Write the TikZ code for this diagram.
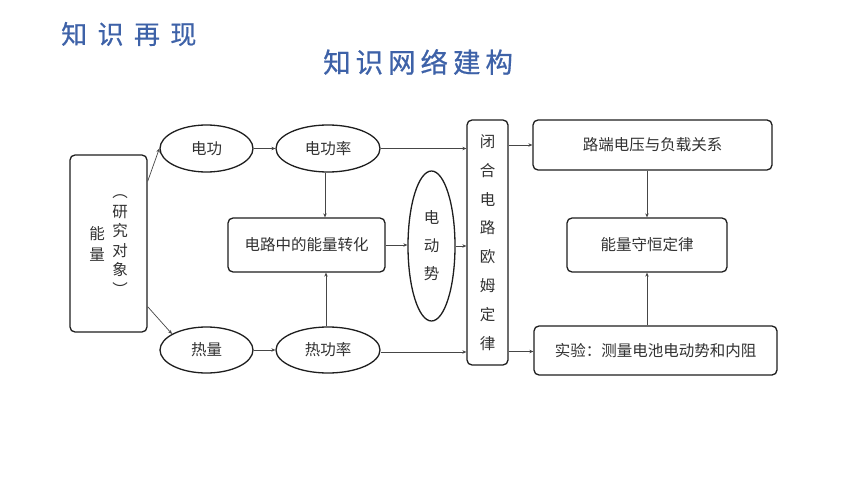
\documentclass[tikz,border=0pt]{standalone}
\usepackage{fontspec}
\setmainfont{Noto Sans CJK SC}
\newfontfamily\titlefontA[LetterSpace=40,FakeBold=0.6]{Noto Sans CJK SC}
\newfontfamily\titlefontB[LetterSpace=18,FakeBold=0.6]{Noto Sans CJK SC}
\usetikzlibrary{shapes.geometric,arrows.meta}
\definecolor{ttl}{RGB}{62,98,168}
\definecolor{txt}{RGB}{50,50,50}
\definecolor{edge}{RGB}{30,30,30}
\definecolor{lnk}{RGB}{70,70,70}
\tikzset{
  rbox/.style={draw=edge, line width=1.3pt, rounded corners=5pt, inner sep=0pt,
    text=txt, align=center, font=\fontsize{15.5}{21}\selectfont},
  ell/.style={ellipse, draw=edge, line width=1.3pt, inner sep=0pt,
    text=txt, align=center, font=\fontsize{15.5}{21}\selectfont},
  lbl/.style={inner sep=0pt, text=txt, align=center},
  arr/.style={draw=lnk, line width=0.7pt, -{Stealth[length=4pt,width=3.5pt]}},
  ttlA/.style={inner sep=0pt, anchor=west, text=ttl, font=\titlefontA\fontsize{26}{30}\selectfont},
  ttlB/.style={inner sep=0pt, anchor=west, text=ttl, font=\titlefontB\fontsize{27.5}{32}\selectfont}
}
\begin{document}
\begin{tikzpicture}[x=1pt,y=-1pt]
\useasboundingbox (0,0) rectangle (860,484);
\fill[white] (0,0) rectangle (860,484);
% titles
\node[ttlA] (title1) at (61,34) {知识再现};
\node[ttlB] (title2) at (323,62) {知识网络建构};
% left box
\node[rbox, minimum width=77pt, minimum height=177pt] (neng) at (108.5,243.5) {};
\node[lbl, font=\fontsize{15.5}{21}\selectfont] (nengtxt) at (97,244) {能\\量};
\node[lbl, font=\fontsize{15.5}{19.5}\selectfont] (yanjiu) at (120,245) {︵\\研\\究\\对\\象\\︶};
% ellipses
\node[ell, minimum width=93pt, minimum height=47pt] (e1) at (206.5,148.5) {电功};
\node[ell, minimum width=104pt, minimum height=47pt] (e2) at (328,148.5) {电功率};
\node[ell, minimum width=93pt, minimum height=46pt] (e3) at (206.5,350) {热量};
\node[ell, minimum width=104pt, minimum height=46pt] (e4) at (328,350) {热功率};
\node[ell, minimum width=47pt, minimum height=150pt, font=\fontsize{15.5}{28}\selectfont] (e5) at (431.5,246) {电\\动\\势};
% boxes
\node[rbox, minimum width=157pt, minimum height=54pt] (b1) at (306.5,245) {电路中的能量转化};
\node[rbox, minimum width=41pt, minimum height=245pt, font=\fontsize{15.5}{28.8}\selectfont] (b2) at (487.5,242.5) {闭\\合\\电\\路\\欧\\姆\\定\\律};
\node[rbox, minimum width=239pt, minimum height=50pt] (b3) at (652.5,145) {路端电压与负载关系};
\node[rbox, minimum width=160pt, minimum height=54pt] (b4) at (647,245) {能量守恒定律};
\node[rbox, minimum width=243pt, minimum height=49pt] (b5) at (655.5,350.5) {实验：测量电池电动势和内阻};
% connectors
\draw[arr] ([yshift=-27pt]neng.north east) -- (e1.west);
\draw[arr] ([yshift=26pt]neng.south east) -- (e3.155);
\draw[arr] (e1.east) -- (e2.west);
\draw[arr] (e3.east) -- (e4.west);
\draw[arr] ([xshift=-3pt]e2.south) -- ([xshift=-3pt]e2.south |- b1.north);
\draw[arr] ([xshift=-2pt]e4.north) -- ([xshift=-2pt]e4.north |- b1.south);
\draw[arr] (e2.east) -- (e2.east -| b2.west);
\draw[arr] ([yshift=-2pt]e4.east) -- ([yshift=-2pt]e4.east -| b2.west);
\draw[arr] (b1.east) -- (b1.east -| e5.west);
\draw[arr] (e5.east) -- (e5.east -| b2.west);
\draw[arr] (b3.west -| b2.east) -- (b3.west);
\draw[arr] ([yshift=-1pt]b5.west -| b2.east) -- ([yshift=-1pt]b5.west);
\draw[arr] (b4.north |- b3.south) -- (b4.north);
\draw[arr] (b4.south |- b5.north) -- (b4.south);
\end{tikzpicture}
\end{document}
